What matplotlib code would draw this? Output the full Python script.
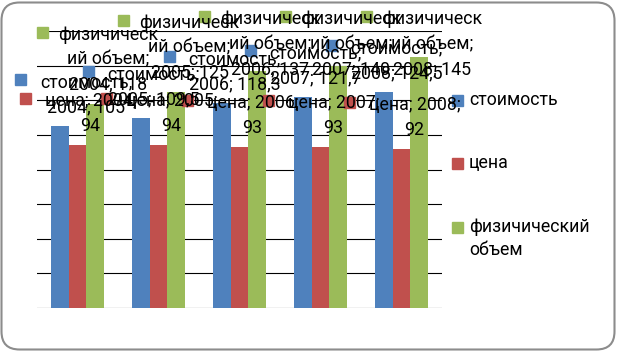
import matplotlib.pyplot as plt
import numpy as np
import textwrap
from matplotlib.patches import Rectangle, FancyBboxPatch
from matplotlib.transforms import IdentityTransform

years = ['2004', '2005', '2006', '2007', '2008']
series_names = ['стоимость', 'цена', 'физичический объем']
stoimost = [105, 109.5, 118.3, 121.7, 124.5]
cena = [94, 94, 93, 93, 92]
fiz_obem = [118, 125, 137, 140, 145]
colors = ['#4F81BD', '#C0504D', '#9BBB59']

plt.rcParams['font.family'] = ['Roboto', 'DejaVu Sans']
FS = 12.8

W, H = 617, 351
fig = plt.figure(figsize=(W / 100, H / 100), dpi=100)
px = IdentityTransform()

# rounded frame of the chart area
fig.add_artist(FancyBboxPatch((1.5, 1.5), 613, 347, boxstyle='round,pad=0,rounding_size=18',
                              transform=px, fc='white', ec='#8c8c8c', lw=1.5, zorder=-5))

ax = fig.add_axes([37 / W, 1 - 308 / H, (442 - 37) / W, (308 - 31) / H])
ax.patch.set_visible(False)

x = np.arange(len(years))
width = 0.222
data = [stoimost, cena, fiz_obem]
containers = []
for i, (vals, col) in enumerate(zip(data, colors)):
    containers.append(ax.bar(x + (i - 1) * width, vals, width, color=col, zorder=2))

ax.set_xlim(-0.5, len(years) - 0.5)
ax.set_ylim(0, 160)
ax.set_yticks(np.arange(0, 161, 20))
ax.yaxis.grid(True, color='black', lw=0.8)
ax.set_axisbelow(True)
ax.tick_params(left=False, bottom=False, labelleft=False, labelbottom=False)
for s in ax.spines.values():
    s.set_visible(False)


def fmt(v):
    return str(v).replace('.', ',') if v % 1 else str(int(v))


def wrap(text, limit=11):
    # rough imitation of how excel breaks the data labels
    lines, cur = [], ''
    for w in text.split():
        if len(w) > limit:
            if cur:
                lines.append(cur)
                cur = ''
            lines.append(w[:limit - 1])
            w = w[limit - 1:]
        if cur and len(cur) + 1 + len(w) > limit:
            lines.append(cur)
            cur = w
        else:
            cur = f'{cur} {w}' if cur else w
    lines.append(cur)
    return lines


# data labels: series name; year; value, with legend key
for k, (cont, vals) in enumerate(zip(containers, data)):
    for bar, year, v in zip(cont, years, vals):
        bx, by = ax.transData.transform((bar.get_x() + bar.get_width() / 2, bar.get_height()))
        top = H - by
        lines = wrap(f'{series_names[k]}; {year}; {fmt(v)}')
        key_left = max(bx - 58, 15)
        key_top = max(top - 27 - 25 * (len(lines) - 1), 11)
        fig.add_artist(Rectangle((key_left, H - key_top - 11), 11, 11, transform=px,
                                 color=colors[k], zorder=4))
        for j, s in enumerate(lines):
            fig.text(key_left + 71, H - (key_top + 8 + 25 * j), s, transform=px,
                     ha='center', va='center', fontsize=FS, zorder=5)

# legend on the right
leg_y = [100, 163, 227]
for k, name in enumerate(series_names):
    fig.add_artist(Rectangle((452, H - leg_y[k] - 5.5), 11, 11, transform=px,
                             color=colors[k], zorder=4))
    for j, s in enumerate(textwrap.wrap(name, 12)):
        fig.text(469, H - (leg_y[k] + 23 * j), s, transform=px,
                 ha='left', va='center', fontsize=FS, zorder=5)

fig.savefig('out.png', dpi=100)
